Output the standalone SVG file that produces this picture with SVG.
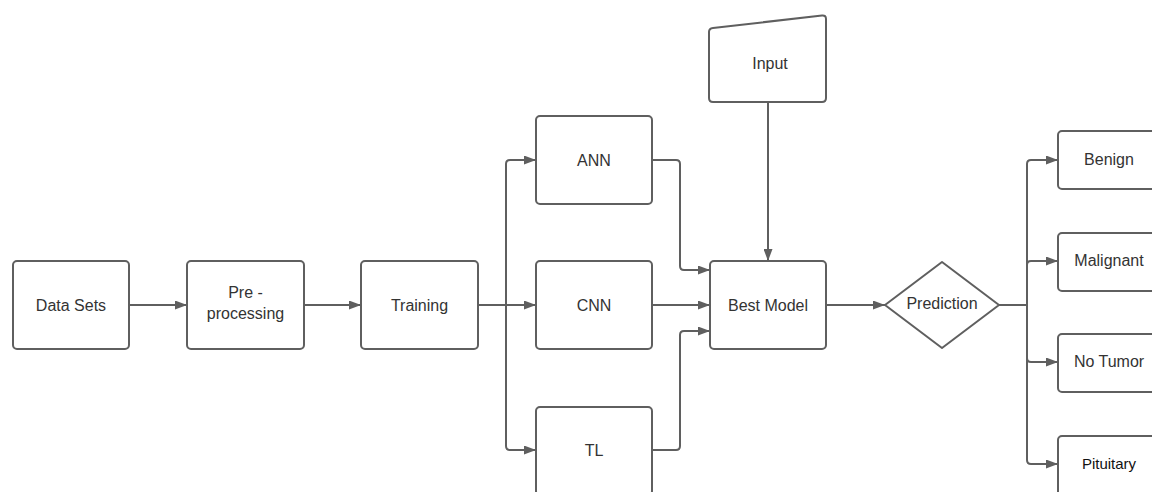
<svg xmlns="http://www.w3.org/2000/svg" width="1152" height="492" viewBox="0 0 1152 492">
<style>
.box{fill:#fff;stroke:#5f5f5f;stroke-width:2}
.lbl{font-family:"Liberation Sans",Arial,sans-serif;font-size:16px;fill:#333;text-anchor:middle}
.con{fill:none;stroke:#5f5f5f;stroke-width:2}
</style>
<defs>
<marker id="ah" viewBox="0 0 12 9" refX="12" refY="4.5" markerWidth="12" markerHeight="9" markerUnits="userSpaceOnUse" orient="auto">
<path d="M0,0 L12,4.5 L0,9 z" fill="#5f5f5f"/>
</marker>
</defs>
<rect width="1152" height="492" fill="#fff"/>
<g id="connectors">
<path class="con" d="M129,305 H187" marker-end="url(#ah)"/>
<path class="con" d="M304,305 H361" marker-end="url(#ah)"/>
<path class="con" d="M478,305 H536" marker-end="url(#ah)"/>
<path class="con" d="M506,305 V164 Q506,160 510,160 H536" marker-end="url(#ah)"/>
<path class="con" d="M506,305 V446 Q506,450 510,450 H536" marker-end="url(#ah)"/>
<path class="con" d="M652,160 H676 Q680,160 680,164 V266 Q680,270 684,270 H710" marker-end="url(#ah)"/>
<path class="con" d="M652,305 H710" marker-end="url(#ah)"/>
<path class="con" d="M652,450 H676 Q680,450 680,446 V335 Q680,331 684,331 H710" marker-end="url(#ah)"/>
<path class="con" d="M768,102 V261" marker-end="url(#ah)"/>
<path class="con" d="M826,305 H885" marker-end="url(#ah)"/>
<path class="con" d="M999,305 H1027"/>
<path class="con" d="M1027,305 V164 Q1027,160 1031,160 H1058" marker-end="url(#ah)"/>
<path class="con" d="M1027,305 V265 Q1027,261 1031,261 H1058" marker-end="url(#ah)"/>
<path class="con" d="M1027,305 V358 Q1027,362 1031,362 H1058" marker-end="url(#ah)"/>
<path class="con" d="M1027,305 V460 Q1027,464 1031,464 H1058" marker-end="url(#ah)"/>
</g>
<g id="datasets">
<rect class="box" x="13" y="261" width="116" height="88" rx="4"/>
<text class="lbl" x="71" y="310.5">Data Sets</text>
</g>
<g id="preprocessing">
<rect class="box" x="187" y="261" width="117" height="88" rx="4"/>
<text class="lbl" x="245.5" y="298">Pre -</text>
<text class="lbl" x="245.5" y="318.5">processing</text>
</g>
<g id="training">
<rect class="box" x="361" y="261" width="117" height="88" rx="4"/>
<text class="lbl" x="419.5" y="310.5">Training</text>
</g>
<g id="ann">
<rect class="box" x="536" y="116" width="116" height="88" rx="4"/>
<text class="lbl" x="594" y="165.5">ANN</text>
</g>
<g id="cnn">
<rect class="box" x="536" y="261" width="116" height="88" rx="4"/>
<text class="lbl" x="594" y="310.5">CNN</text>
</g>
<g id="tl">
<rect class="box" x="536" y="407" width="116" height="88" rx="4"/>
<text class="lbl" x="594" y="455.5">TL</text>
</g>
<g id="input">
<path class="box" d="M713,28 L822,15.5 Q826,15 826,19 V98 Q826,102 822,102 H713 Q709,102 709,98 V32 Q709,28.5 713,28 Z"/>
<text class="lbl" x="770" y="68.5">Input</text>
</g>
<g id="bestmodel">
<rect class="box" x="710" y="261" width="116" height="88" rx="4"/>
<text class="lbl" x="768" y="310.5">Best Model</text>
</g>
<g id="prediction">
<path class="box" stroke-linejoin="round" d="M885,305 L942,262 L999,305 L942,348 Z"/>
<text class="lbl" x="942" y="308.5">Prediction</text>
</g>
<g id="benign">
<rect class="box" x="1058" y="131" width="106" height="58" rx="4"/>
<text class="lbl" x="1109" y="164.5">Benign</text>
</g>
<g id="malignant">
<rect class="box" x="1058" y="233" width="106" height="58" rx="4"/>
<text class="lbl" x="1109" y="265.5">Malignant</text>
</g>
<g id="notumor">
<rect class="box" x="1058" y="334" width="106" height="58" rx="4"/>
<text class="lbl" x="1109" y="367">No Tumor</text>
</g>
<g id="pituitary">
<rect class="box" x="1058" y="436" width="106" height="70" rx="4"/>
<text class="lbl" x="1109" y="469" style="fill:#111;font-size:15px">Pituitary</text>
</g>
</svg>
